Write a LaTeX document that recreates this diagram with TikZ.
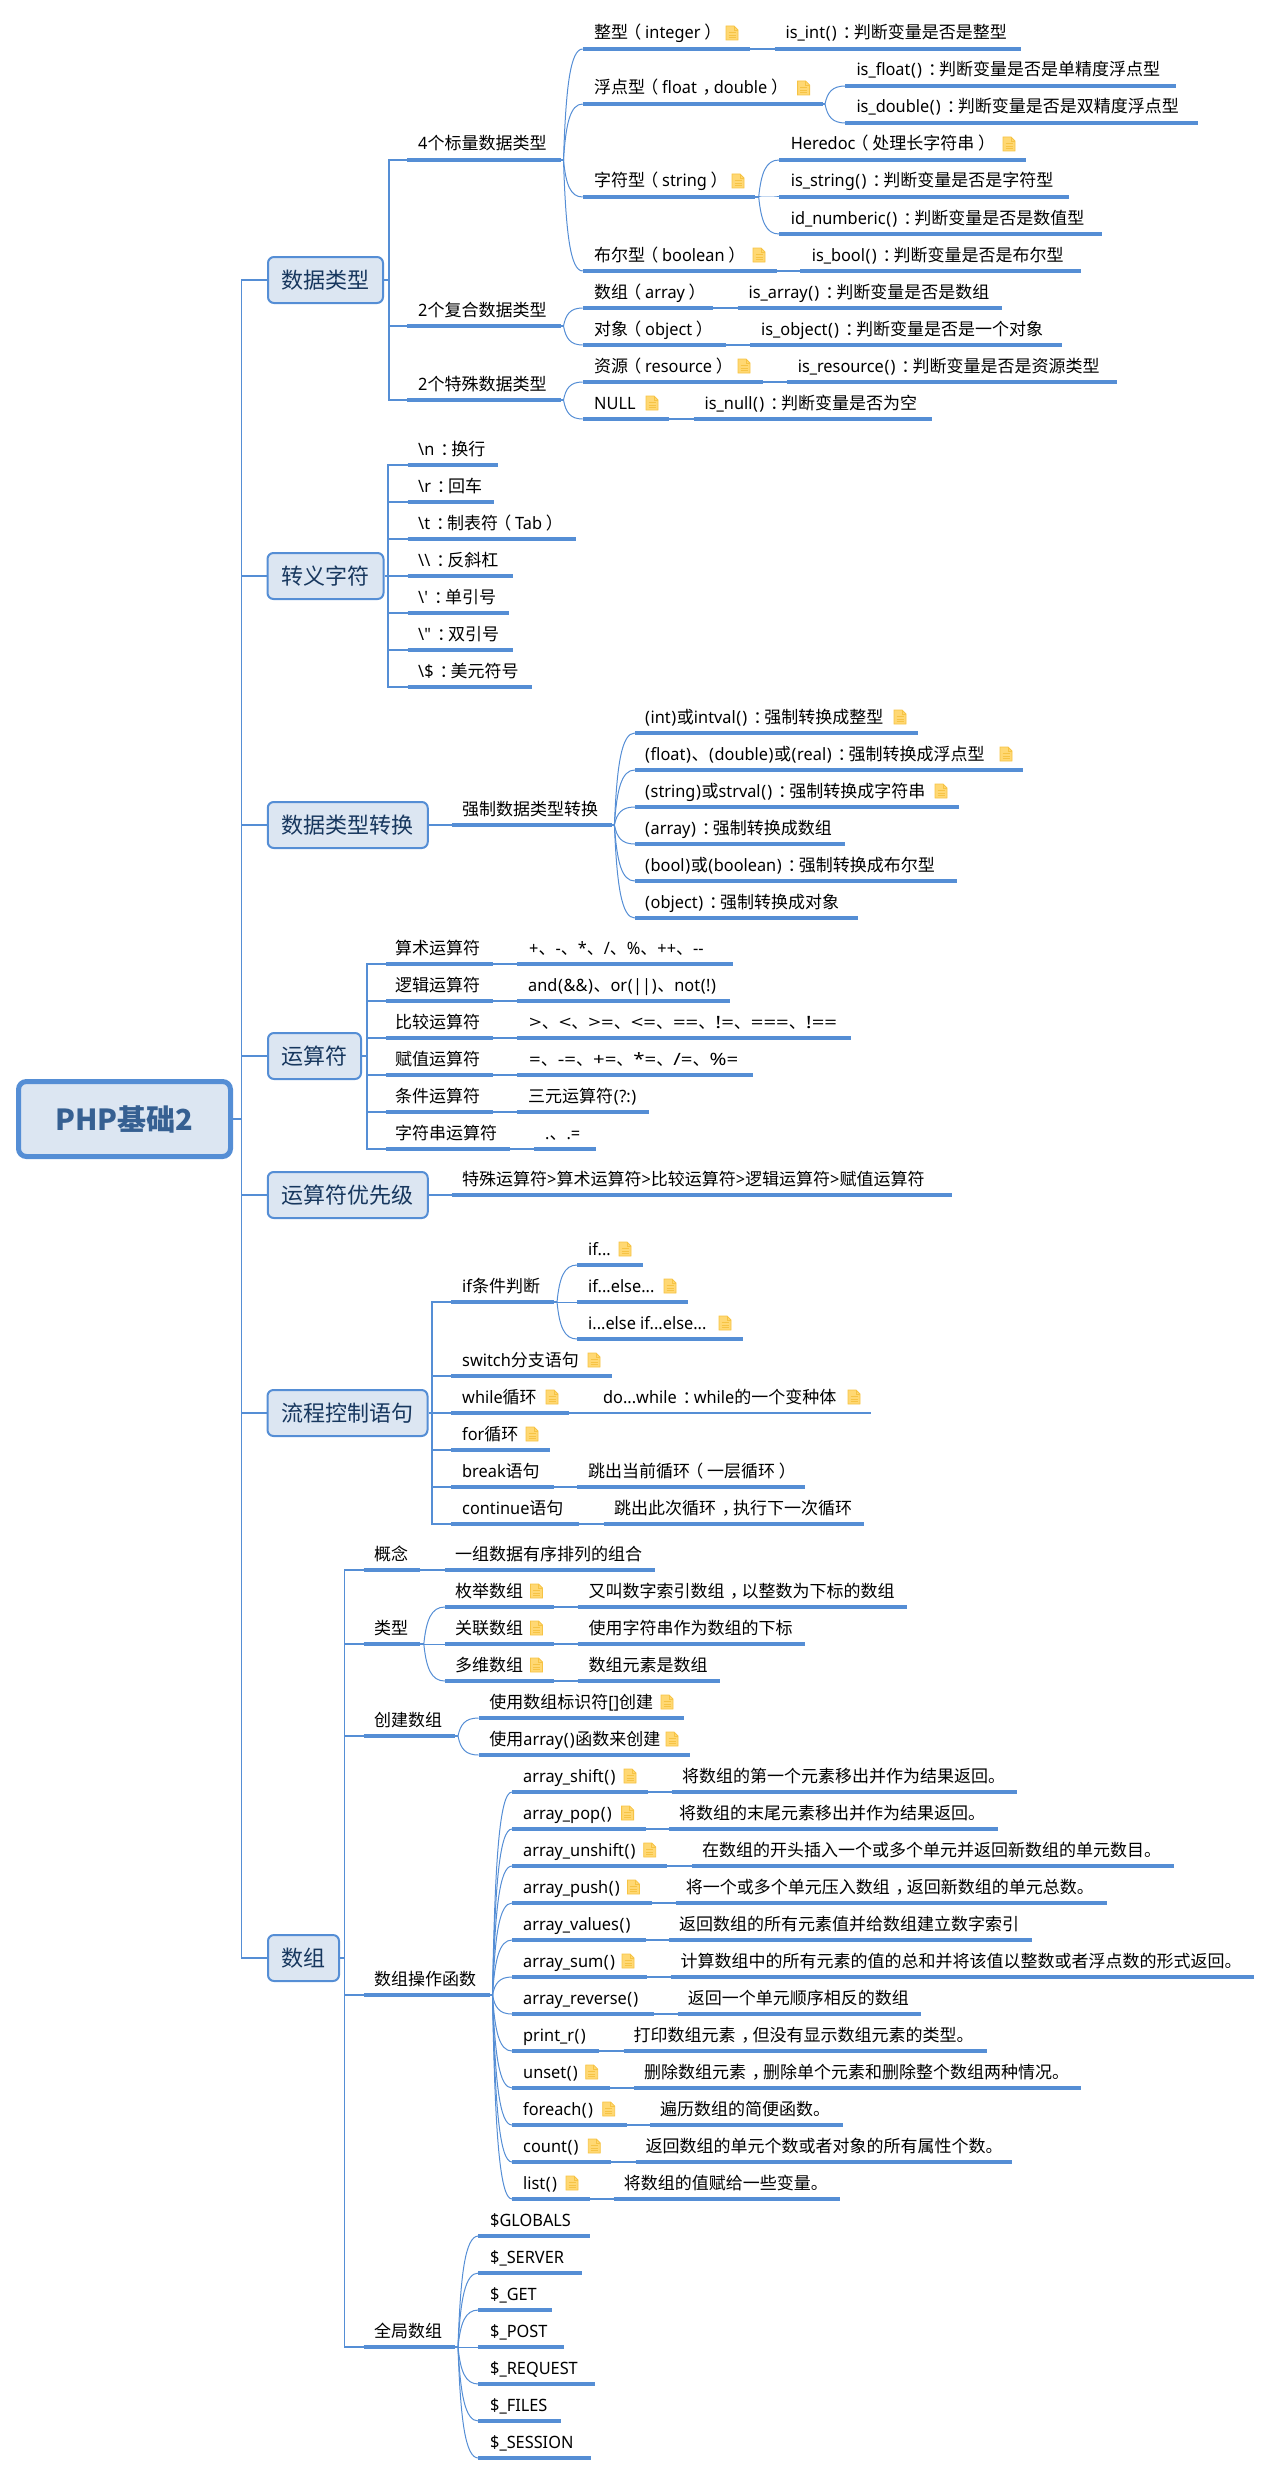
\documentclass[tikz,border=0pt]{standalone}
\usepackage{fontspec}
\usetikzlibrary{calc}
\setmainfont{Noto Sans}[FakeStretch=0.96]
\newfontfamily\cjkfam{Noto Sans CJK SC}
\newfontfamily\opsa[FakeStretch=1.3]{Noto Sans}
\newfontfamily\opsb[FakeStretch=1.2]{Noto Sans}
\XeTeXinterchartokenstate=1
\newcount\cjkcnt
\cjkcnt="2E80 \loop \XeTeXcharclass\cjkcnt=7 \advance\cjkcnt 1 \ifnum\cjkcnt<"A000 \repeat
\cjkcnt="FF00 \loop \XeTeXcharclass\cjkcnt=7 \advance\cjkcnt 1 \ifnum\cjkcnt<"FFF0 \repeat
\XeTeXcharclass`(=8
\XeTeXcharclass`)=8
\XeTeXinterchartoks 0 7 = {\cjkfam}
\XeTeXinterchartoks 4095 7 = {\cjkfam}
\XeTeXinterchartoks 7 0 = {\rmfamily}
\XeTeXinterchartoks 7 4095 = {\rmfamily}
\XeTeXinterchartoks 7 8 = {\rmfamily\kern.035em}
\XeTeXinterchartoks 8 7 = {\kern.035em\cjkfam}
\XeTeXinterchartoks 0 8 = {\kern.035em}
\XeTeXinterchartoks 8 0 = {\kern.035em}
\XeTeXinterchartoks 8 8 = {\kern.07em}
% full-width punctuation set centred in its em box, as in the picture
\catcode"FF08=\active
\catcode"FF09=\active
\catcode"FF1A=\active
\catcode"FF0C=\active
\begingroup\lccode`~="FF08 \lowercase{\endgroup\def~}{\hbox to 1em{\kern-.22em\cjkfam\char"FF08\relax\hss}}
\begingroup\lccode`~="FF09 \lowercase{\endgroup\def~}{\hbox to 1em{\kern.22em\cjkfam\char"FF09\relax\hss}}
\begingroup\lccode`~="FF1A \lowercase{\endgroup\def~}{\hbox to 1em{\kern.35em\cjkfam\char"FF1A\relax\hss}}
\begingroup\lccode`~="FF0C \lowercase{\endgroup\def~}{\hbox to 1em{\kern.33em\cjkfam\char"FF0C\relax\hss}}
\newcommand{\sta}[1]{{\opsa #1}}
\newcommand{\stb}[1]{{\opsb #1}}
\newcommand{\rootfontsel}{\XeTeXinterchartokenstate=0\relax\cjkfam\bfseries\fontsize{29}{34}\selectfont}
\definecolor{mapblue}{HTML}{558ED5}
\definecolor{nodefill}{HTML}{DCE6F2}
\definecolor{nodetext}{HTML}{17375E}
\definecolor{roottext}{HTML}{366092}
\definecolor{notefill}{HTML}{FFD873}
\definecolor{noteedge}{HTML}{F6C344}
\tikzset{
  x=1pt,y=-1pt,
  uline/.style={draw=mapblue,line width=3.4pt},
  conn/.style={draw=mapblue,line width=1.2pt},
  lbl/.style={anchor=base west,inner sep=0pt,text=black,font=\fontsize{17}{20}\selectfont},
  l1node/.style={draw=mapblue,fill=nodefill,line width=2pt,rounded corners=6pt,minimum height=46pt,inner sep=0pt,text=nodetext,font=\fontsize{22}{26}\selectfont},
  rootnode/.style={draw=mapblue,fill=nodefill,line width=5pt,rounded corners=8pt,minimum width=212pt,minimum height=75pt,inner sep=0pt,text=roottext,font=\rootfontsel},
  pics/noteicon/.style={code={
    \path[fill=notefill,draw=noteedge,line width=0.8pt] (0,0) -- (8,0) -- (12,4) -- (12,14) -- (0,14) -- cycle;
    \path[draw=noteedge,line width=0.8pt] (8,0) -- (8,4) -- (12,4);
    \path[draw=noteedge,line width=0.8pt] (2.5,6.5) -- (9.5,6.5) (2.5,9) -- (9.5,9) (2.5,11.5) -- (9.5,11.5);
  }}
}
% name, x left, x right, y of the rule, x of the text, text
\newcommand{\topic}[6]{%
  \coordinate (#1-l) at (#2,#4);
  \coordinate (#1-r) at (#3,#4);
  \draw[uline] (#1-l) -- (#1-r);
  \node[lbl] (#1) at (#5,#4-10) {#6};
}
\newcommand{\lnk}[2]{\draw[conn] (#1-r) -- (#2-l);}
\newcommand{\curveto}[2]{\draw[conn,line width=1pt] let \p1=(#1),\p2=(#2-l) in (\p1) .. controls ({\x1+0.12*(\x2-\x1)},{\y1+0.65*(\y2-\y1)}) and ({\x1+0.35*(\x2-\x1)},{\y2}) .. (\p2);}
\newcommand{\elbow}[2]{\draw[conn] (#1) |- (#2-l);}
\newcommand{\note}[2]{\pic at (#1,#2-23) {noteicon};}
\begin{document}
\begin{tikzpicture}
\useasboundingbox (0,0) rectangle (1272,2475);
% root and main branches
\node[rootnode] (root) at (124.5,1119) {PHP基础2};
\coordinate (ms) at (241.5,1119);
\node[l1node,minimum width=115pt] (d1) at (325.5,280) {数据类型};
\node[l1node,minimum width=116pt] (d2) at (325.5,576) {转义字符};
\node[l1node,minimum width=160pt] (d3) at (347.75,825) {数据类型转换};
\node[l1node,minimum width=93pt] (d4) at (314.5,1056) {运算符};
\node[l1node,minimum width=160pt] (d5) at (347.75,1195) {运算符优先级};
\node[l1node,minimum width=160pt] (d6) at (347.5,1413) {流程控制语句};
\node[l1node,minimum width=71pt] (d7) at (303.5,1958) {数组};
\draw[conn] (root.east) -- (ms);
\foreach \d in {d1,d2,d3,d4,d5,d6,d7}{\draw[conn] (ms) |- (\d.west);}

% ---- 数据类型
\coordinate (s1) at (389,280);
\draw[conn] (d1.east) -- (s1);
\topic{a}{407}{560.5}{160}{418}{4个标量数据类型}
\topic{b}{407}{560.5}{326}{418}{2个复合数据类型}
\topic{c}{407}{560.5}{400}{418}{2个特殊数据类型}
\elbow{s1}{a}\elbow{s1}{b}\elbow{s1}{c}
\coordinate (as) at (563.5,160);\draw[conn] (a-r) -- (as);
\coordinate (bs) at (563.5,326);\draw[conn] (b-r) -- (bs);
\coordinate (cs) at (563.5,400);\draw[conn] (c-r) -- (cs);
\topic{a1}{582.7}{750}{49}{594}{整型（integer）}\note{726}{49}
\topic{a1v}{774.6}{1021}{49}{785.5}{is\_int()：判断变量是否是整型}\lnk{a1}{a1v}
\topic{a2}{582.7}{823}{104}{594}{浮点型（float，double）}\note{797.6}{104}
\coordinate (a2s) at (825,104);\draw[conn] (a2-r) -- (a2s);
\topic{a2x}{845.4}{1175.8}{86}{856.3}{is\_float()：判断变量是否是单精度浮点型}
\topic{a2y}{845.4}{1197.5}{123}{856.3}{is\_double()：判断变量是否是双精度浮点型}
\curveto{a2s}{a2x}\curveto{a2s}{a2y}
\topic{a3}{582.7}{755}{197}{594}{字符型（string）}\note{732}{197}
\coordinate (a3s) at (758.7,197);\draw[conn] (a3-r) -- (a3s);
\topic{a3x}{779}{1026}{160}{790.6}{Heredoc（处理长字符串）}\note{1003}{160}
\topic{a3y}{779}{1068.6}{197}{790.6}{is\_string()：判断变量是否是字符型}
\topic{a3z}{779}{1102}{234}{790.6}{id\_numberic()：判断变量是否是数值型}
\curveto{a3s}{a3x}\curveto{a3s}{a3y}\curveto{a3s}{a3z}
\topic{a4}{582.7}{776.6}{271}{594}{布尔型（boolean）}\note{753}{271}
\topic{a4v}{800}{1081.4}{271}{811.6}{is\_bool()：判断变量是否是布尔型}\lnk{a4}{a4v}
\curveto{as}{a1}\curveto{as}{a2}\curveto{as}{a3}\curveto{as}{a4}
\topic{b1}{582.7}{712.8}{308}{594}{数组（array）}
\topic{b1v}{737.6}{1002}{308}{748.5}{is\_array()：判断变量是否是数组}\lnk{b1}{b1v}
\topic{b2}{582.7}{726}{345}{594}{对象（object）}
\topic{b2v}{750.4}{1062}{345}{761}{is\_object()：判断变量是否是一个对象}\lnk{b2}{b2v}
\curveto{bs}{b1}\curveto{bs}{b2}
\topic{c1}{582.7}{762.5}{382}{594}{资源（resource）}\note{738}{382}
\topic{c1v}{786.8}{1116.5}{382}{797.6}{is\_resource()：判断变量是否是资源类型}\lnk{c1}{c1v}
\topic{c2}{582.7}{669.4}{419}{594}{NULL}\note{646}{419}
\topic{c2v}{693.6}{932}{419}{704.5}{is\_null()：判断变量是否为空}\lnk{c2}{c2v}
\curveto{cs}{c1}\curveto{cs}{c2}

% ---- 转义字符
\coordinate (s2) at (388,576);
\draw[conn] (d2.east) -- (s2);
\topic{e1}{407.7}{498}{465}{418}{\textbackslash n：换行}
\topic{e2}{407.7}{494}{502}{418}{\textbackslash r：回车}
\topic{e3}{407.7}{575.7}{539}{418}{\textbackslash t：制表符（Tab）}
\topic{e4}{407.7}{512.7}{576}{418}{\textbackslash\textbackslash：反斜杠}
\topic{e5}{407.7}{509}{613}{418}{\textbackslash\textquotesingle：单引号}
\topic{e6}{407.7}{512.7}{650}{418}{\textbackslash\textquotedbl：双引号}
\topic{e7}{407.7}{532}{687}{418}{\textbackslash\$：美元符号}
\foreach \k in {e1,e2,e3,e4,e5,e6,e7}{\elbow{s2}{\k}}

% ---- 数据类型转换
\topic{f}{451.8}{611.8}{825}{462}{强制数据类型转换}
\draw[conn] (d3.east) -- (f-l);
\coordinate (fs) at (614.4,825);\draw[conn] (f-r) -- (fs);
\topic{f1}{634.8}{917.8}{733}{645}{(int)或intval()：强制转换成整型}\note{894}{733}
\topic{f2}{634.8}{1023.4}{770}{645}{(float)、(double)或(real)：强制转换成浮点型}\note{1000}{770}
\topic{f3}{634.8}{958.6}{807}{645}{(string)或strval()：强制转换成字符串}\note{935}{807}
\topic{f4}{634.8}{844.5}{844}{645}{(array)：强制转换成数组}
\topic{f5}{634.8}{956.5}{881}{645}{(bool)或(boolean)：强制转换成布尔型}
\topic{f6}{634.8}{857.6}{918}{645}{(object)：强制转换成对象}
\foreach \k in {f1,f2,f3,f4,f5,f6}{\curveto{fs}{\k}}

% ---- 运算符
\coordinate (s4) at (367,1056);
\draw[conn] (d4.east) -- (s4);
\topic{g1}{386}{493}{964}{395}{算术运算符}
\topic{g1v}{517}{733}{964}{529}{+、-、*、/、\%、++、-{}-}\lnk{g1}{g1v}
\topic{g2}{386}{493}{1001}{395}{逻辑运算符}
\topic{g2v}{517}{730}{1001}{528}{and(\&\&)、or(||)、not(!)}\lnk{g2}{g2v}
\topic{g3}{386}{493}{1038}{395}{比较运算符}
\topic{g3v}{517}{851}{1038}{529}{\sta{>}、\sta{<}、\sta{>=}、\sta{<=}、\sta{==}、\sta{!=}、\sta{===}、\sta{!==}}\lnk{g3}{g3v}
\topic{g4}{386}{493}{1075}{395}{赋值运算符}
\topic{g4v}{517}{753}{1075}{529}{\stb{=}、\stb{-=}、\stb{+=}、\stb{*=}、\stb{/=}、\stb{\%=}}\lnk{g4}{g4v}
\topic{g5}{386}{493}{1112}{395}{条件运算符}
\topic{g5v}{517}{649}{1112}{528}{三元运算符(?:)}\lnk{g5}{g5v}
\topic{g6}{386}{510}{1149}{395}{字符串运算符}
\topic{g6v}{534}{596}{1149}{545}{.、.=}\lnk{g6}{g6v}
\foreach \k in {g1,g2,g3,g4,g5,g6}{\elbow{s4}{\k}}

% ---- 运算符优先级
\topic{h}{451.5}{951.5}{1195}{462}{特殊运算符>算术运算符>比较运算符>逻辑运算符>赋值运算符}
\draw[conn] (d5.east) -- (h-l);

% ---- 流程控制语句
\coordinate (s6) at (432,1413);
\draw[conn] (d6.east) -- (s6);
\topic{i1}{451.4}{553.7}{1302}{462}{if条件判断}
\coordinate (i1s) at (557,1302);\draw[conn] (i1-r) -- (i1s);
\topic{i1a}{577}{642.5}{1265}{588}{if...}\note{619}{1265}
\topic{i1b}{577}{687.6}{1302}{588}{if...else...}\note{664}{1302}
\topic{i1c}{577}{742.5}{1339}{588}{i...else if...else...}\note{719}{1339}
\curveto{i1s}{i1a}\curveto{i1s}{i1b}\curveto{i1s}{i1c}
\topic{i2}{451.4}{611.7}{1376}{462}{switch分支语句}\note{588}{1376}
\topic{i3}{451.4}{569}{1413}{462}{while循环}\note{546}{1413}
\coordinate (i3e) at (870.6,1413);\draw[conn] (i3-r) -- (i3e);
\node[lbl] (i3v) at (603,1403) {do...while：while的一个变种体};\note{848}{1413}
\topic{i4}{451.4}{549.6}{1450}{462}{for循环}\note{526}{1450}
\topic{i5}{451.4}{553.7}{1487}{462}{break语句}
\topic{i5v}{577}{804.5}{1487}{588}{跳出当前循环（一层循环）}\lnk{i5}{i5v}
\topic{i6}{451.4}{579}{1524}{462}{continue语句}
\topic{i6v}{603.7}{864}{1524}{614}{跳出此次循环，执行下一次循环}\lnk{i6}{i6v}
\foreach \k in {i1,i2,i3,i4,i5,i6}{\elbow{s6}{\k}}

% ---- 数组
\coordinate (s7) at (344.5,1958);
\draw[conn] (d7.east) -- (s7);
\topic{j1}{363.7}{420.3}{1570}{374}{概念}
\topic{j1v}{444.8}{654.5}{1570}{454.8}{一组数据有序排列的组合}\lnk{j1}{j1v}
\topic{j2}{363.7}{420.3}{1644}{374}{类型}
\coordinate (j2s) at (423.8,1644);\draw[conn] (j2-r) -- (j2s);
\topic{j2a}{444.8}{553.5}{1607}{454.8}{枚举数组}\note{530.5}{1607}
\topic{j2av}{577.6}{906.7}{1607}{588.3}{又叫数字索引数组，以整数为下标的数组}\lnk{j2a}{j2av}
\topic{j2b}{444.8}{553.5}{1644}{454.8}{关联数组}\note{530.5}{1644}
\topic{j2bv}{577.6}{804.5}{1644}{588.3}{使用字符串作为数组的下标}\lnk{j2b}{j2bv}
\topic{j2c}{444.8}{553.5}{1681}{454.8}{多维数组}\note{530.5}{1681}
\topic{j2cv}{577.6}{719.6}{1681}{588.3}{数组元素是数组}\lnk{j2c}{j2cv}
\curveto{j2s}{j2a}\curveto{j2s}{j2b}\curveto{j2s}{j2c}
\topic{j3}{363.7}{454.8}{1736}{374}{创建数组}
\coordinate (j3s) at (458,1736);\draw[conn] (j3-r) -- (j3s);
\topic{j3a}{478.5}{684.4}{1718}{489.2}{使用数组标识符[]创建}\note{661}{1718}
\topic{j3b}{478.5}{689.7}{1755}{489.2}{使用array()函数来创建}\note{666}{1755}
\curveto{j3s}{j3a}\curveto{j3s}{j3b}
\topic{j4}{364}{490}{1995}{374}{数组操作函数}
\coordinate (j4s) at (492.5,1995);\draw[conn] (j4-r) -- (j4s);
\topic{k1}{512}{647.6}{1792}{523}{array\_shift()}\note{624}{1792}
\topic{k1v}{671.8}{1017}{1792}{681.8}{将数组的第一个元素移出并作为结果返回。}\lnk{k1}{k1v}
\topic{k2}{512}{645.7}{1829}{523}{array\_pop()}\note{621.6}{1829}
\topic{k2v}{669}{998}{1829}{679}{将数组的末尾元素移出并作为结果返回。}\lnk{k2}{k2v}
\topic{k3}{512}{667}{1866}{523}{array\_unshift()}\note{643.7}{1866}
\topic{k3v}{692}{1173.7}{1866}{702}{在数组的开头插入一个或多个单元并返回新数组的单元数目。}\lnk{k3}{k3v}
\topic{k4}{512}{651.6}{1903}{523}{array\_push()}\note{627.4}{1903}
\topic{k4v}{675.7}{1106.6}{1903}{685.7}{将一个或多个单元压入数组，返回新数组的单元总数。}\lnk{k4}{k4v}
\topic{k5}{512}{645.7}{1940}{523}{array\_values()}
\topic{k5v}{669}{1032}{1940}{679}{返回数组的所有元素值并给数组建立数字索引}\lnk{k5}{k5v}
\topic{k6}{512}{647}{1977}{523}{array\_sum()}\note{622}{1977}
\topic{k6v}{670.5}{1254}{1977}{680.5}{计算数组中的所有元素的值的总和并将该值以整数或者浮点数的形式返回。}\lnk{k6}{k6v}
\topic{k7}{512}{653.5}{2014}{523}{array\_reverse()}
\topic{k7v}{677.6}{921.4}{2014}{687.6}{返回一个单元顺序相反的数组}\lnk{k7}{k7v}
\topic{k8}{512}{599.4}{2051}{523}{print\_r()}
\topic{k8v}{623.5}{986.6}{2051}{633.5}{打印数组元素，但没有显示数组元素的类型。}\lnk{k8}{k8v}
\topic{k9}{512}{610}{2088}{523}{unset()}\note{585.7}{2088}
\topic{k9v}{634}{1081}{2088}{644}{删除数组元素，删除单个元素和删除整个数组两种情况。}\lnk{k9}{k9v}
\topic{k10}{512}{626.8}{2125}{523}{foreach()}\note{602.7}{2125}
\topic{k10v}{650}{843}{2125}{660}{遍历数组的简便函数。}\lnk{k10}{k10v}
\topic{k11}{512}{611.4}{2162}{523}{count()}\note{588.3}{2162}
\topic{k11v}{635.5}{1012}{2162}{645.5}{返回数组的单元个数或者对象的所有属性个数。}\lnk{k11}{k11v}
\topic{k12}{512}{589.6}{2199}{523}{list()}\note{566}{2199}
\topic{k12v}{613.7}{840}{2199}{623.7}{将数组的值赋给一些变量。}\lnk{k12}{k12v}
\foreach \k in {k1,k2,k3,k4,k5,k6,k7,k8,k9,k10,k11,k12}{\curveto{j4s}{\k}}
\topic{m}{363.7}{454.7}{2347}{374}{全局数组}
\coordinate (ms2) at (458,2347);\draw[conn] (m-r) -- (ms2);
\topic{m1}{478.4}{589.6}{2236}{490}{\$GLOBALS}
\topic{m2}{478.4}{582.4}{2273}{490}{\$\_SERVER}
\topic{m3}{478.4}{551.6}{2310}{490}{\$\_GET}
\topic{m4}{478.4}{563.7}{2347}{490}{\$\_POST}
\topic{m5}{478.4}{595.4}{2384}{490}{\$\_REQUEST}
\topic{m6}{478.4}{561.4}{2421}{490}{\$\_FILES}
\topic{m7}{478.4}{591.3}{2458}{490}{\$\_SESSION}
\foreach \k in {m1,m2,m3,m4,m5,m6,m7}{\curveto{ms2}{\k}}
\foreach \k in {j1,j2,j3,j4,m}{\elbow{s7}{\k}}
\end{tikzpicture}
\end{document}
